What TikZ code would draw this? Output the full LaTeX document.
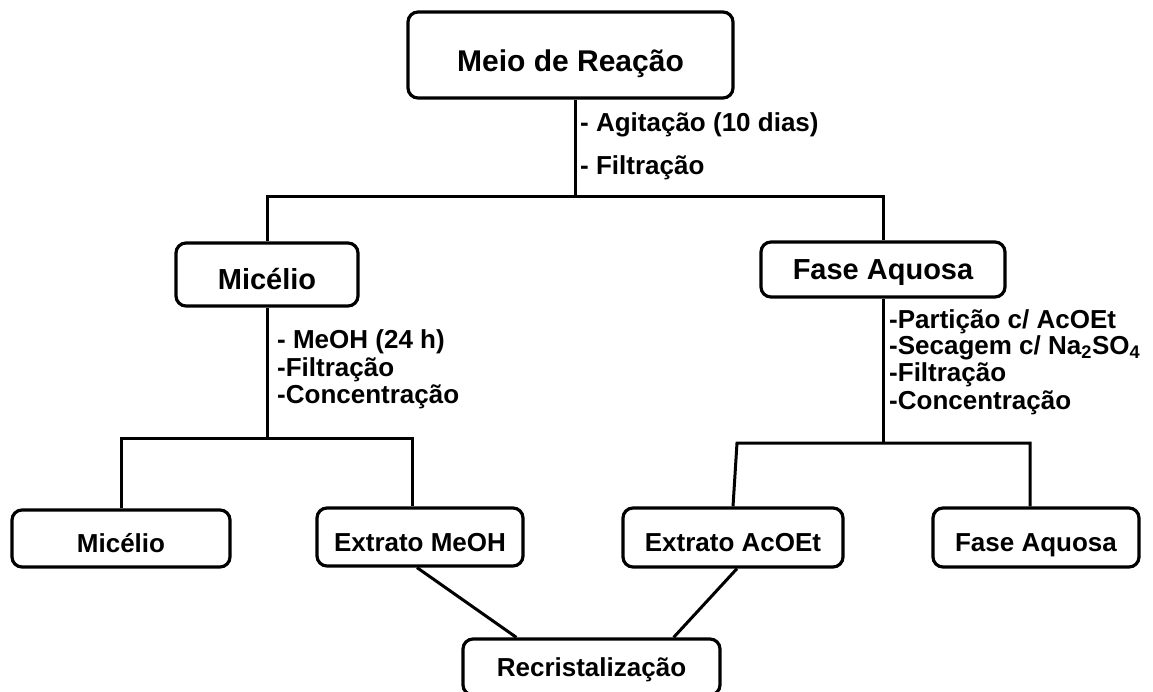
\documentclass[tikz,border=0pt]{standalone}
\usepackage{fontspec}
\setmainfont{Liberation Sans}
\begin{document}
\begin{tikzpicture}[x=1pt,y=-1pt,
  box/.style={draw, line width=3.2pt, rounded corners=10pt, inner sep=0pt, text depth=0pt},
  big/.style={font=\bfseries\fontsize{30}{36}\selectfont},
  mid/.style={font=\bfseries\fontsize{29}{34}\selectfont},
  small/.style={font=\bfseries\fontsize{26}{31}\selectfont},
  conn/.style={line width=3pt},
  lbl/.style={anchor=west, inner sep=0pt, font=\bfseries\fontsize{26}{31}\selectfont}]
\useasboundingbox (0,0) rectangle (1153,691);
% boxes
\node[box, big, text height=33.6pt, minimum width=325pt, minimum height=86pt] (meio) at (570.5,55) {Meio de Reação};
\node[box, mid, text height=30.9pt, minimum width=182pt, minimum height=63pt] (mic1) at (267,274.5) {Micélio};
\node[box, mid, text height=20.9pt, minimum width=244pt, minimum height=55pt] (fase1) at (883,269.5) {Fase Aquosa};
\node[box, small, text height=28.7pt, minimum width=218pt, minimum height=57pt] (mic2) at (121,538.5) {Micélio};
\node[box, small, text height=28.7pt, minimum width=206pt, minimum height=58pt] (ext1) at (420,537) {Extrato MeOH\hspace{12pt}};
\node[box, small, text height=28.7pt, minimum width=220pt, minimum height=59pt] (ext2) at (733,537.5) {Extrato AcOEt\hspace{5pt}};
\node[box, small, text height=28.7pt, minimum width=206pt, minimum height=59pt] (fase2) at (1036,537.5) {Fase Aquosa};
\node[box, small, text height=18.7pt, minimum width=257pt, minimum height=56pt] (recr) at (591.5,667) {Recristalização};
% junctions
\coordinate (j0) at (575,196);
\coordinate (j1) at (267,438);
\coordinate (j2) at (883,443);
% connectors
\draw[conn] (meio.south -| j0) -- (j0);
\draw[conn] (mic1.north) -- (mic1.north |- j0) -- (fase1.north |- j0) -- (fase1.north);
\draw[conn] (mic1.south) -- (j1);
\draw[conn] (mic2.north) -- (mic2.north |- j1) -- ([xshift=-8pt]ext1.north |- j1) -- ([xshift=-8pt]ext1.north);
\draw[conn] (fase1.south) -- (j2);
\draw[conn] (ext2.north) -- ([xshift=4pt]ext2.north |- j2) -- ([xshift=-6pt]fase2.north |- j2) -- ([xshift=-6pt]fase2.north);
\draw[conn] ([xshift=-3pt]ext1.south) -- ([xshift=55pt]recr.north west);
\draw[conn] ([xshift=4pt]ext2.south) -- ([xshift=-48pt]recr.north east);
% labels
\node[lbl] (l1) at (580,125) {- Agitação (10 dias)};
\node[lbl] (l2) at (580,168) {- Filtração};
\node[lbl] (l3) at (277,342) {- MeOH (24 h)};
\node[lbl] (l4) at (277,370) {-Filtração};
\node[lbl] (l5) at (277,397) {-Concentração};
\node[lbl] (l6) at (889,322) {-Partição c/ AcOEt};
\node[lbl] (l7) at (889,348) {-Secagem c/ Na\textsubscript{2}SO\textsubscript{4}};
\node[lbl] (l8) at (889,375) {-Filtração};
\node[lbl] (l9) at (889,403) {-Concentração};
\end{tikzpicture}
\end{document}
